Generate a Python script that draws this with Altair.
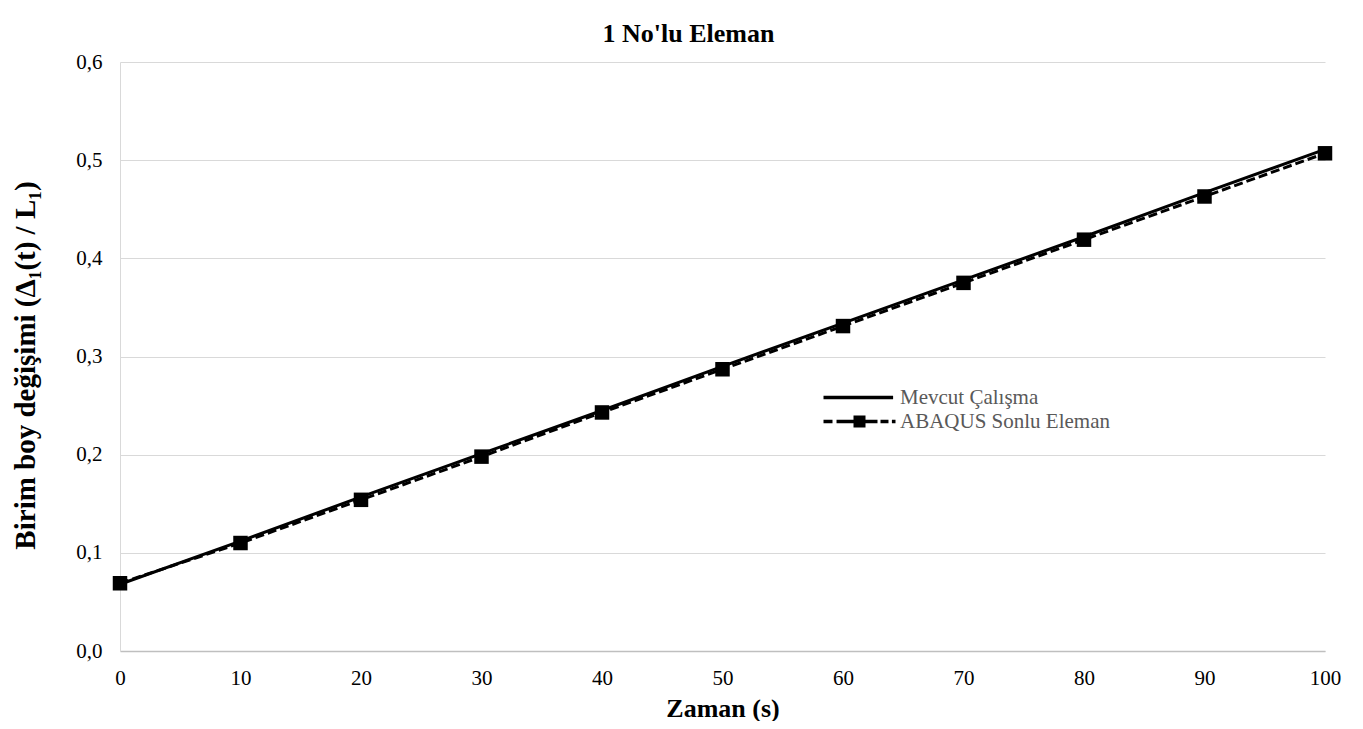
import altair as alt
import pandas as pd

zaman = [0, 10, 20, 30, 40, 50, 60, 70, 80, 90, 100]
mevcut = [0.068, 0.112, 0.157, 0.201, 0.245, 0.290, 0.334, 0.378, 0.422, 0.467, 0.511]
abaqus = [0.069, 0.110, 0.154, 0.198, 0.243, 0.287, 0.331, 0.375, 0.419, 0.463, 0.507]
series_names = ["Mevcut Çalışma", "ABAQUS Sonlu Eleman"]
y_ticks = [0.0, 0.1, 0.2, 0.3, 0.4, 0.5, 0.6]
x_ticks = [0, 10, 20, 30, 40, 50, 60, 70, 80, 90, 100]

df = pd.DataFrame(
    [{"t": t, "v": v, "s": series_names[0]} for t, v in zip(zaman, mevcut)]
    + [{"t": t, "v": v, "s": series_names[1]} for t, v in zip(zaman, abaqus)]
)

FONT = "Liberation Serif"

# legend symbol paths (unit = half of sqrt(size))
solid_path = "M-6,-0.28H5.6V0.28H-6Z"
dash_path = ("M-6,-0.3H-4.5V0.3H-6Z M-3.83,-0.3H-1V0.3H-3.83Z "
             "M-1,-1H1V1H-1Z M1,-0.3H3V0.3H1Z M3.5,-0.3H4.83V0.3H3.5Z "
             "M5.4,-0.3H6V0.3H5.4Z")

x_enc = alt.X("t:Q", scale=alt.Scale(domain=[0, 100], nice=False),
              axis=alt.Axis(values=x_ticks, title="Zaman (s)", grid=False,
                            ticks=False, labelPadding=16, labelFlush=False,
                            domainColor="#bfbfbf", domainWidth=1.3,
                            titleY=57, titleBaseline="middle"))
y_enc = alt.Y("v:Q", scale=alt.Scale(domain=[0, 0.6], nice=False),
              axis=alt.Axis(values=y_ticks, title="Birim boy değişimi (Δ₁(t) / L₁)",
                            labelExpr="replace(format(datum.value, '.1f'), '.', ',')",
                            ticks=False, labelPadding=18, grid=True, labelFlush=False,
                            gridColor="#d9d9d9", domainColor="#d9d9d9",
                            titleX=-95, titleY=303, titleAngle=-90,
                            titleAlign="center", titleBaseline="middle",
                            titleFontSize=29))

line_m = alt.Chart(df).transform_filter(
    alt.datum.s == series_names[0]
).mark_line(color="black", strokeWidth=3).encode(x=x_enc, y=y_enc)

line_a = alt.Chart(df).transform_filter(
    alt.datum.s == series_names[1]
).mark_line(color="black", strokeWidth=3, strokeDash=[9, 4]).encode(x="t:Q", y="v:Q")

pts_a = alt.Chart(df).transform_filter(
    alt.datum.s == series_names[1]
).mark_point(shape="square", filled=True, color="black", size=210, opacity=1).encode(x="t:Q", y="v:Q")

legend_layer = alt.Chart(df).mark_point(filled=True, opacity=0, color="black").encode(
    x="t:Q", y="v:Q",
    shape=alt.Shape("s:N",
                    scale=alt.Scale(domain=series_names, range=[solid_path, dash_path]),
                    legend=alt.Legend(title=None, orient="none", legendX=729, legendY=325,
                                      symbolSize=144, symbolFillColor="black",
                                      symbolStrokeColor="black",
                                      symbolStrokeWidth=0, symbolOpacity=1,
                                      labelOffset=30, rowPadding=2, padding=0,
                                      labelLimit=400,
                                      labelFont=FONT, labelFontSize=21,
                                      labelColor="#595959")),
)

chart = alt.layer(line_m, line_a, pts_a, legend_layer).properties(
    width=1205, height=589,
    title=alt.TitleParams("1 No'lu Eleman", font=FONT, fontSize=26, fontWeight="bold",
                          color="black", offset=4, dx=-34, anchor="middle"),
    autosize=alt.AutoSizeParams(type="none"),
    padding={"left": 112, "top": 54, "right": 30, "bottom": 70},
).configure_axis(
    labelFont=FONT, labelFontSize=21, labelColor="#000000",
    titleFont=FONT, titleFontSize=26, titleFontWeight="bold", titleColor="#000000",
).configure_view(stroke=None)

chart.save("out.html", embed_options={"renderer": "svg", "actions": False})
